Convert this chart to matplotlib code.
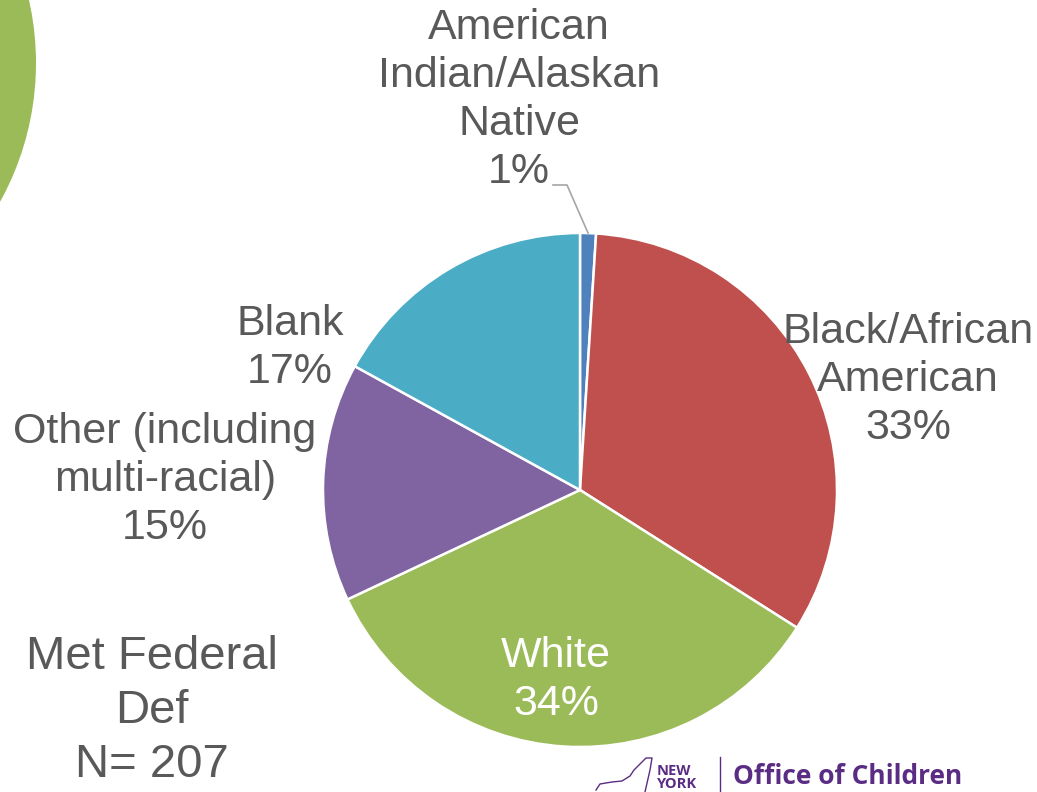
import numpy as np
import matplotlib
matplotlib.use("Agg")
import matplotlib.pyplot as plt
from matplotlib.patches import Circle

categories = ["American\nIndian/Alaskan\nNative", "Black/African\nAmerican", "White",
              "Other (including\nmulti-racial)", "Blank"]
percents = [1, 33, 34, 15, 17]
colors = ["#4F81BD", "#C0504D", "#9BBB59", "#8064A2", "#4BACC6"]
side_title = "Met Federal\nDef\nN= 207"

W, H = 1037, 792
fig = plt.figure(figsize=(W / 100, H / 100), dpi=100)
ax = fig.add_axes([0, 0, 1, 1])

def py(y):
    return H - y

# decorative green circle top-left
ax.add_patch(Circle((-250, py(63)), 286, color="#9BBB59", lw=0))

cx, cy, R = 580, py(490), 257
wedges, _ = ax.pie(percents, colors=colors, startangle=90, counterclock=False,
                   center=(cx, cy), radius=R, frame=True,
                   wedgeprops=dict(edgecolor="white", linewidth=1.8))
ax.set_xlim(0, W)
ax.set_ylim(0, H)
ax.axis("off")

txt = "#595959"
fs = 31
font = "Liberation Sans"
label_pos = [(519, 100), (908, 380), (556, 680), (165, 480), (290, 348)]
for i, (cat, p) in enumerate(zip(categories, percents)):
    x, y = label_pos[i]
    col = "white" if cat == "White" else txt
    ax.text(x, py(y), f"{cat}\n{p}%", ha="center", va="center", fontsize=fs,
            color=col, family=font, linespacing=1.25)

# leader line for the 1% slice
w0 = wedges[0]
mid = np.deg2rad((w0.theta1 + w0.theta2) / 2)
ex, ey = cx + R * np.cos(mid), cy + R * np.sin(mid)
ax.plot([553, 567, ex], [py(185), py(185), ey], color="#A6A6A6", lw=1.2)

ax.text(152, py(711), side_title, ha="center", va="center", fontsize=34,
        color=txt, family=font, linespacing=1.28)

# logo
purple = "#5B2C83"
ax.text(733, py(777), "Office of Children", ha="left", va="center", fontsize=19,
        color=purple, family="Open Sans", weight="bold")
ax.text(657, py(771), "NEW", ha="left", va="center", fontsize=10.5, color=purple,
        family="Open Sans", weight="bold")
ax.text(657, py(784), "YORK", ha="left", va="center", fontsize=10.5, color=purple,
        family="Open Sans", weight="bold")
ax.plot([720, 720], [py(757), py(792)], color=purple, lw=1)
ny_x = [596, 600, 612, 622, 630, 634, 640, 646, 652, 650, 645]
ny_y = [790, 784, 782, 781, 776, 770, 764, 758, 758, 770, 792]
ax.plot(ny_x, [py(v) for v in ny_y], color=purple, lw=1)

fig.savefig("out.png", dpi=100)
